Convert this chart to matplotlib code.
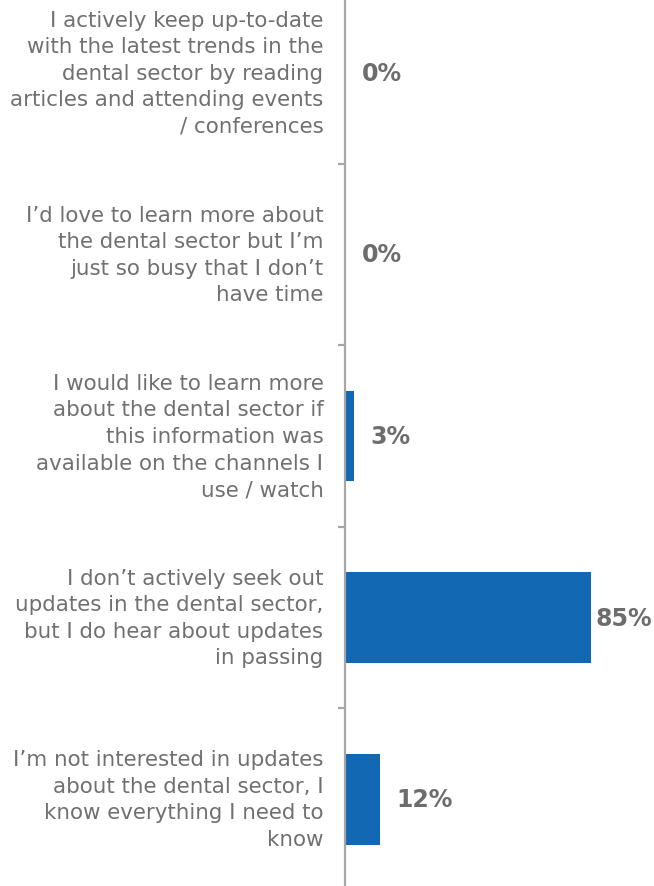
import matplotlib
matplotlib.use("Agg")
import matplotlib.pyplot as plt
import numpy as np

categories = [
    "I actively keep up-to-date\nwith the latest trends in the\ndental sector by reading\narticles and attending events\n/ conferences",
    "I\u2019d love to learn more about\nthe dental sector but I\u2019m\njust so busy that I don\u2019t\nhave time",
    "I would like to learn more\nabout the dental sector if\nthis information was\navailable on the channels I\nuse / watch",
    "I don\u2019t actively seek out\nupdates in the dental sector,\nbut I do hear about updates\nin passing",
    "I\u2019m not interested in updates\nabout the dental sector, I\nknow everything I need to\nknow",
]
values = [0, 0, 3, 85, 12]

BAR_COLOR = "#1368b3"
TEXT_COLOR = "#707070"
AXIS_COLOR = "#a6a6a6"

W, H = 654, 887
fig = plt.figure(figsize=(W / 100, H / 100), dpi=100)
ax_left = 345 / W
ax_right = 634.4 / W
ax_top = 1 + 17 / H
ax_bottom = -4 / H
ax = fig.add_axes([ax_left, ax_bottom, ax_right - ax_left, ax_top - ax_bottom])

n = len(categories)
y = np.arange(n)
ax.barh(y, values, height=0.5, color=BAR_COLOR)
ax.set_ylim(n - 0.5, -0.5)
ax.set_xlim(0, 100)

for spine in ["top", "right", "bottom"]:
    ax.spines[spine].set_visible(False)
ax.spines["left"].set_color(AXIS_COLOR)
ax.spines["left"].set_linewidth(1.6)
ax.set_xticks([])

ax.set_yticks(y)
ax.set_yticklabels(categories, fontsize=15.4, color=TEXT_COLOR, linespacing=1.41,
                   ha="right", va="center")
ax.tick_params(axis="y", which="major", length=0, pad=15.5)
ax.set_yticks(np.arange(0.5, n - 0.5, 1.0), minor=True)
ax.tick_params(axis="y", which="minor", length=5, width=1.6, color=AXIS_COLOR)

offset = 5.9
max_label_x = 86.7
for yi, v in zip(y, values):
    ax.text(min(v + offset, max_label_x), yi, f"{v}%", fontsize=17, fontweight="bold",
            color="#6d6d6d", va="center", ha="left")

fig.savefig("out.png", dpi=100)
